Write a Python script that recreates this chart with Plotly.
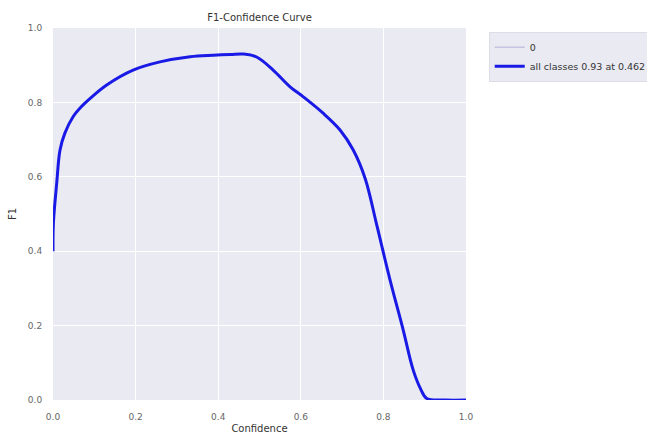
import plotly.graph_objects as go

confidence = [0.0, 0.001, 0.009, 0.017, 0.029, 0.049, 0.070, 0.090, 0.130, 0.194, 0.259, 0.332, 0.388, 0.430,
              0.462, 0.493, 0.533, 0.574, 0.606, 0.654, 0.695, 0.727, 0.756, 0.784, 0.816, 0.848,
              0.872, 0.890, 0.905, 0.95, 1.0]
f1_values = [0.40, 0.476, 0.583, 0.672, 0.718, 0.762, 0.790, 0.811, 0.847, 0.887, 0.909, 0.923, 0.927, 0.929,
             0.930, 0.922, 0.887, 0.842, 0.815, 0.771, 0.726, 0.672, 0.595, 0.470, 0.323, 0.188,
             0.081, 0.030, 0.004, 0.0, 0.0]
class_name = "0"
all_label = "all classes 0.93 at 0.462"
x_ticks = [0.0, 0.2, 0.4, 0.6, 0.8, 1.0]
y_ticks = [0.0, 0.2, 0.4, 0.6, 0.8, 1.0]

fig = go.Figure()
fig.add_trace(go.Scatter(x=confidence, y=f1_values, mode="lines", name=class_name,
                         line=dict(color="#C4C4DE", width=1.5, shape="spline")))
fig.add_trace(go.Scatter(x=confidence, y=f1_values, mode="lines", name=all_label,
                         line=dict(color="#1A1AE6", width=3, shape="spline")))

axis_common = dict(showgrid=True, gridcolor="white", gridwidth=1, zeroline=False,
                   showline=False, ticks="outside", ticklen=8, tickcolor="rgba(0,0,0,0)",
                   tickfont=dict(size=9, color="#666666"), tickformat=".1f")
fig.update_layout(
    width=647, height=434,
    margin=dict(l=53, r=181, t=28, b=34, autoexpand=False),
    paper_bgcolor="white", plot_bgcolor="#EAEAF2",
    font=dict(family="DejaVu Sans", size=10, color="#333333"),
    title=dict(text="F1-Confidence Curve", x=(53 + 466) / 2 / 647, xanchor="center",
               y=1 - 17 / 434, yanchor="middle", font=dict(size=10, color="#333333")),
    xaxis=dict(range=[0, 1], tickvals=x_ticks,
               title=dict(text="Confidence", standoff=4, font=dict(size=10)), **axis_common),
    yaxis=dict(range=[0, 1], tickvals=y_ticks,
               title=dict(text="F1", standoff=9, font=dict(size=10)), **axis_common),
    legend=dict(x=1.055, y=0.99, xanchor="left", yanchor="top",
                bgcolor="#EAEAF2", bordercolor="#DDDDE8", borderwidth=1,
                tracegroupgap=0, itemwidth=30,
                font=dict(size=9.5, color="#333333")),
)
fig.write_html("out.html")
